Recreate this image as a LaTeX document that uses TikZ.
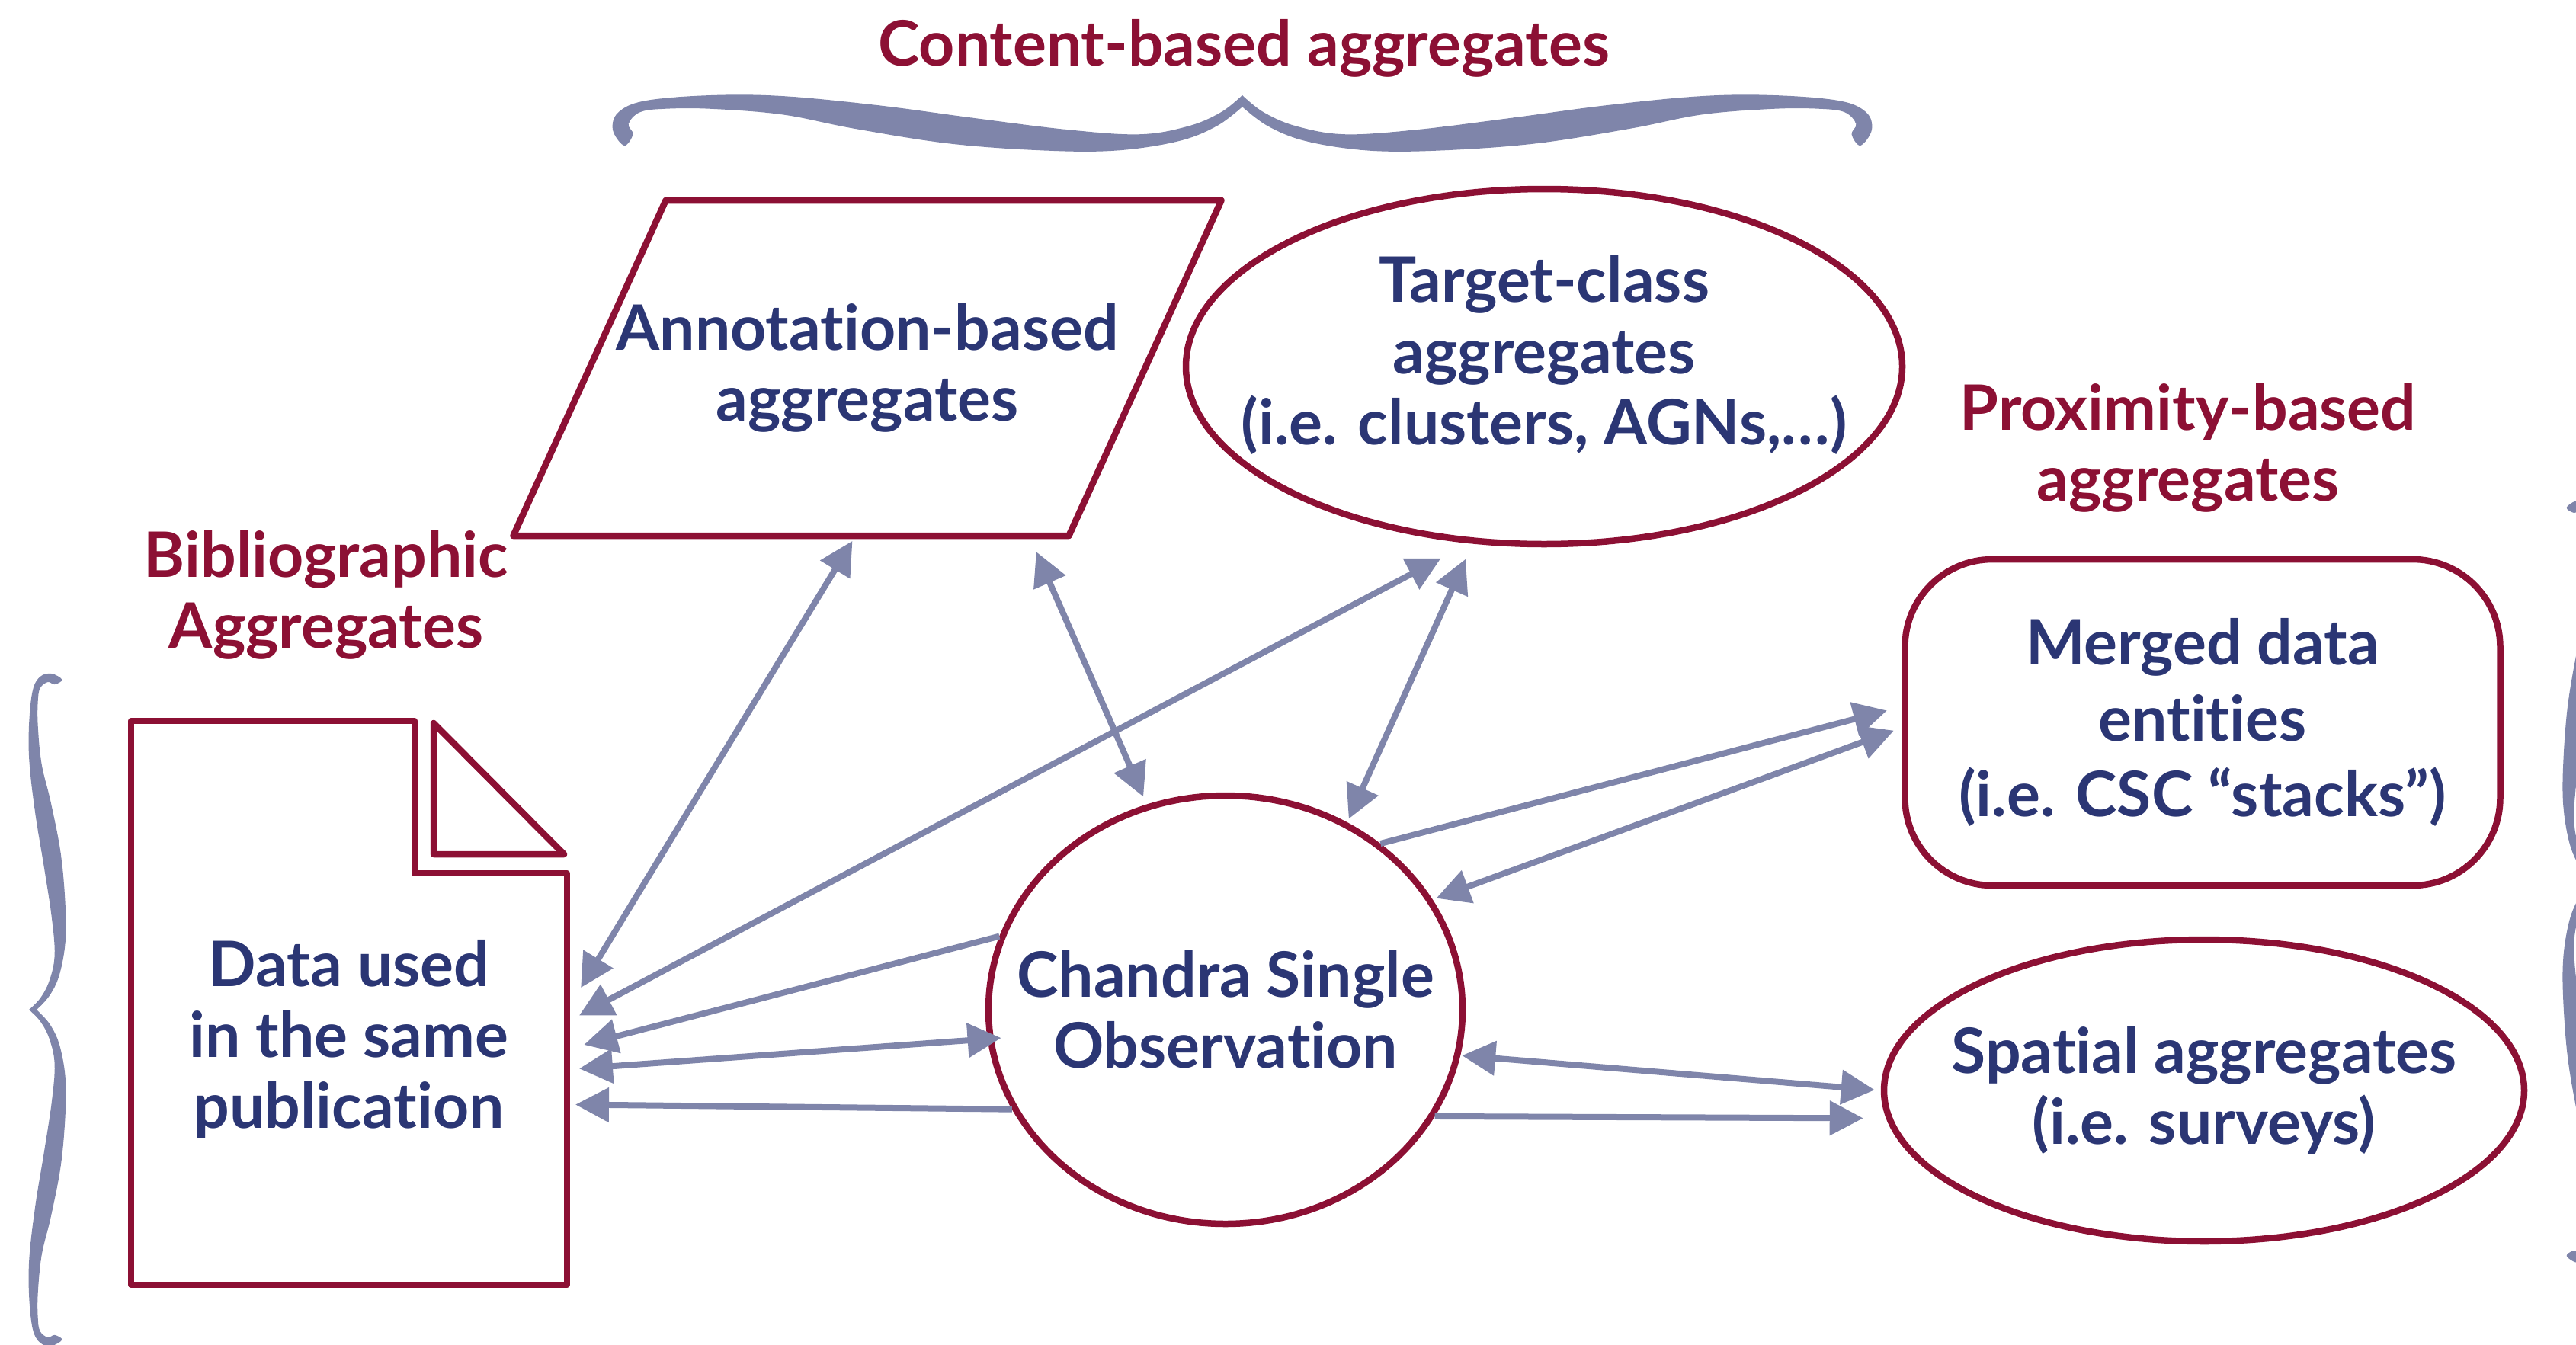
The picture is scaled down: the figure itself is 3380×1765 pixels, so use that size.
\documentclass[tikz,border=0pt]{standalone}
\usepackage{fontspec}
\setmainfont{Lato}[Ligatures={NoCommon}]
\usetikzlibrary{shapes.geometric, arrows.meta}

\definecolor{shapered}{HTML}{8C1034}
\definecolor{textblue}{HTML}{2B3674}
\definecolor{linkgray}{HTML}{7F85AA}
\newcommand\diagfont{\bfseries\fontsize{23.4}{26.5}\selectfont}

\tikzset{
  curly/.pic={
    \foreach \s in {1,-1}
      \fill[linkgray, yscale=\s] plot[smooth, tension=0.6] coordinates {(0,0) (0.306,0.034) (0.556,0.086) (0.702,0.163) (0.619,0.277) (0.410,0.426) (0.181,0.578) (0.015,0.730) (0,0.844) (0.098,0.948) (0.306,0.991) (0.619,1) (0.904,0.982) (0.702,0.968) (0.515,0.975) (0.306,0.957) (0.244,0.918) (0.244,0.844) (0.348,0.730) (0.598,0.617) (0.869,0.465) (0.994,0.313) (0.994,0.200) (0.827,0.102) (0.556,0.041) (0.208,0)} -- cycle;
  },
  entity/.style={draw=shapered, line width=0.85mm, text=textblue, font=\diagfont, align=center, inner sep=0pt},
  oval/.style={entity, ellipse, inner sep=-15mm},
  outline/.style={shapered, line width=0.85mm, line join=round},
  plain/.style={text=textblue, font=\diagfont, align=center, outer sep=0pt},
  group/.style={text=shapered, font=\diagfont, align=center},
  link/.style={draw=linkgray, line width=0.8mm, -{Triangle[length=4.4mm,width=4.4mm]}},
  bilink/.style={link, {Triangle[length=4.4mm,width=4.4mm]}-{Triangle[length=4.4mm,width=4.4mm]}},
}

\begin{document}
\begin{tikzpicture}[x=0.1mm, y=-0.1mm]
\useasboundingbox (0,0) rectangle (3380,1765);
\clip (0,0) rectangle (3380,1765);

% braces
\path (1630,125) pic[rotate=-90, xscale=73, yscale=826] {curly};
\path (38,1325) pic[xscale=48, yscale=441] {curly};
\path (3411,1157) pic[xscale=-48, yscale=500] {curly};

% group labels
\node[group, anchor=base] (content) at (1632,86) {Content-based aggregates};
\node[group] (biblio) at (428,781) {Bibliographic\\Aggregates};
\node[group] (proximity) at (2871,588) {Proximity-based\\aggregates};

% entities
\node[plain, minimum width=92.9mm, minimum height=44mm] (annot) at (1138,483) {Annotation-based\\aggregates};
\draw[outline] ([xshift=20mm]annot.north west) -- (annot.north east)
  -- ([xshift=-20mm]annot.south east) -- (annot.south west) -- cycle;
\node[oval, minimum width=94mm, minimum height=46.6mm, text depth=4.3mm] (target) at (2026,481) {Target-class\\aggregates\\(i.e. clusters, AGNs,…)};
\node[entity, rounded corners=11.5mm, minimum width=78.1mm, minimum height=42.8mm,
  font=\bfseries\fontsize{23.4}{28.2}\selectfont] (merged) at (2890,948) {Merged data\\entities\\(i.e. CSC “stacks”)};
\node[oval, minimum width=84mm, minimum height=39.6mm] (spatial) at (2892,1431) {Spatial aggregates\\(i.e. surveys)};
\node[oval, minimum width=62.2mm, minimum height=56.2mm] (chandra) at (1608,1325) {Chandra Single\\Observation};

% document with folded corner
\node[minimum width=57.2mm, minimum height=74mm, outer sep=0pt] (doc) at (458,1316) {};
\draw[outline] (doc.north west) -- ([xshift=-20mm]doc.north east)
  -- ([shift={(-20mm,-20mm)}]doc.north east) -- ([yshift=-20mm]doc.north east)
  -- (doc.south east) -- (doc.south west) -- cycle;
\draw[outline] ([shift={(-17.5mm,-0.3mm)}]doc.north east)
  -- ([shift={(-17.5mm,-17.5mm)}]doc.north east) -- ([shift={(-0.4mm,-17.5mm)}]doc.north east) -- cycle;
\node[plain] (doctext) at ([yshift=-4.8mm]doc.center) {Data used\\in the same\\publication};

% connectors
\draw[bilink, shorten <=3.5mm, shorten >=0.8mm] (doc.-2.8) -- (annot.266.7);
\draw[bilink, shorten <=1.8mm, shorten >=4.2mm] (doc.-5.7) -- (target.247.3);
\draw[bilink, shorten <=2.3mm, shorten >=1.1mm] (annot.-46.8) -- (chandra.111);
\draw[bilink, shorten <=2.2mm, shorten >=0.5mm] (target.248.4) -- (chandra.57.8);
\draw[link, shorten >=2.3mm] (chandra.162.7) -- (doc.-12.8);
\draw[bilink, shorten <=1.6mm, shorten >=-1.8mm] (doc.-17.7) -- (chandra.187);
\draw[link, shorten >=1.1mm] (chandra.205.9) -- (doc.-25.9);
\draw[link, shorten >=2mm] (chandra.47.1) -- (merged.177.1);
\draw[bilink, shorten <=1.1mm, shorten >=0.5mm] (merged.181.2) -- (chandra.28.7);
\draw[bilink, shorten <=0.2mm, shorten >=0.8mm] (chandra.-11.2) -- (spatial.180);
\draw[link, shorten >=3mm] (chandra.-27.3) -- (spatial.185.8);
\end{tikzpicture}
\end{document}
